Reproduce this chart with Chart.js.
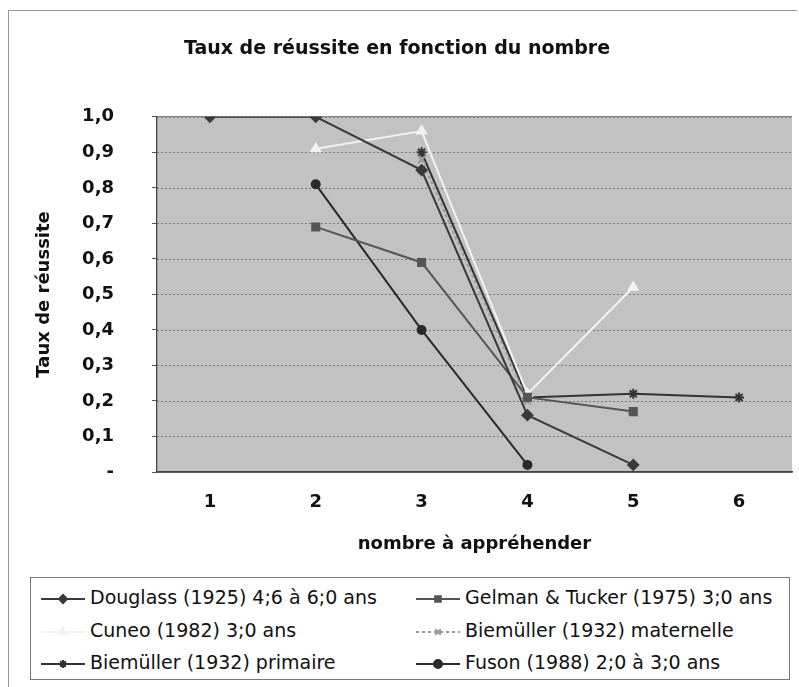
<!DOCTYPE html>
<html>
<head>
<meta charset="utf-8">
<script src="https://cdn.jsdelivr.net/npm/chart.js@4.4.0/dist/chart.umd.min.js"></script>
<style>
  body { margin: 0; background: #fff; font-family: "DejaVu Sans", sans-serif; }
  #frame { position: absolute; left: 8px; top: 10px; width: 788px; height: 676px; border-left: 1px solid #999; border-top: 1px solid #999; }
  #wrap { position: absolute; left: 0; top: 0; width: 799px; height: 570px; }
  #legend { position: absolute; left: 30px; top: 577px; width: 758px; height: 101px; border: 1px solid #777; }
  .item { position: absolute; font-size: 19px; color: #111; white-space: nowrap; }
  .item canvas { vertical-align: middle; margin-right: 3px; }
</style>
</head>
<body>
<div id="frame"></div>
<div id="wrap"><canvas id="chart" width="799" height="570"></canvas></div>
<div id="legend"></div>
<script>
// Values
const categories = ["1", "2", "3", "4", "5", "6"];
const douglass = [1.0, 1.0, 0.85, 0.16, 0.02, null];
const gelman = [null, 0.69, 0.59, 0.21, 0.17, null];
const cuneo = [null, 0.91, 0.96, 0.22, 0.52, null];
const maternelle = [null, null, 0.88, 0.2, null, null];
const primaire = [null, null, 0.9, 0.21, 0.22, 0.21];
const fuson = [null, 0.81, 0.4, 0.02, null, null];
const yTicks = ["-", "0,1", "0,2", "0,3", "0,4", "0,5", "0,6", "0,7", "0,8", "0,9", "1,0"];

const series = [
  { label: "Douglass (1925) 4;6 à 6;0 ans", data: douglass, color: "#3a3a3a", point: "rectRot", radius: 5, dash: [] },
  { label: "Gelman & Tucker (1975) 3;0 ans", data: gelman, color: "#555", point: "rect", radius: 5, dash: [] },
  { label: "Cuneo (1982) 3;0 ans", data: cuneo, color: "#f2f2f2", point: "triangle", radius: 5, dash: [] },
  { label: "Biemüller (1932) maternelle", data: maternelle, color: "#9a9a9a", point: "crossRot", radius: 5, dash: [3, 3] },
  { label: "Biemüller (1932) primaire", data: primaire, color: "#333", point: "star", radius: 5, dash: [] },
  { label: "Fuson (1988) 2;0 à 3;0 ans", data: fuson, color: "#2a2a2a", point: "circle", radius: 4, dash: [] },
];

const bold = (size) => ({ family: "'DejaVu Sans', sans-serif", size: size, weight: "bold" });

new Chart(document.getElementById("chart"), {
  type: "line",
  data: {
    labels: categories,
    datasets: series.map((s) => ({
      label: s.label,
      data: s.data,
      borderColor: s.color,
      backgroundColor: s.color,
      borderWidth: 2,
      borderDash: s.dash,
      pointStyle: s.point,
      pointRadius: s.radius,
      pointBorderWidth: 2,
      tension: 0,
      spanGaps: false,
    })),
  },
  options: {
    responsive: false,
    animation: false,
    layout: { padding: { left: 0, right: 5, top: 0, bottom: 0 } },
    plugins: {
      legend: { display: false },
      tooltip: { enabled: false },
      title: {
        display: true,
        text: "Taux de réussite en fonction du nombre",
        color: "#111",
        font: bold(19),
        padding: { top: 38, bottom: 56 },
      },
    },
    scales: {
      x: {
        offset: true,
        grid: { display: false },
        border: { color: "#444", width: 1.5 },
        ticks: { color: "#111", font: bold(18), padding: 12 },
        title: { display: true, text: "nombre à appréhender", color: "#111", font: bold(18), padding: { top: 10, bottom: 15 } },
        afterFit(scale) { scale.height = 98; },
      },
      y: {
        min: 0,
        max: 1,
        grid: { color: "#7a7a7a", tickColor: "#555", tickLength: 5, drawOnChartArea: true },
        border: { color: "#444", width: 1.5, display: true },
        ticks: {
          stepSize: 0.1,
          color: "#111",
          font: bold(18),
          padding: 38,
          callback: (v, i) => yTicks[i],
        },
        title: { display: true, text: "Taux de réussite", color: "#111", font: bold(18), padding: { top: 34, bottom: 0 } },
        afterFit(scale) { scale.width = 157; },
      },
    },
  },
  plugins: [{
    id: "plotBg",
    beforeDatasetsDraw(chart) {
      // gray plot area with dotted horizontal grid
      const { ctx, chartArea: a, scales: { y } } = chart;
      ctx.save();
      ctx.fillStyle = "#c2c2c2";
      ctx.fillRect(a.left + 1, a.top, a.right - a.left - 1, a.bottom - a.top - 1);
      ctx.strokeStyle = "#777";
      ctx.lineWidth = 1;
      ctx.setLineDash([2, 2]);
      y.ticks.forEach((t) => {
        if (t.value === 0) return;
        const py = Math.round(y.getPixelForValue(t.value)) + 0.5;
        ctx.beginPath();
        ctx.moveTo(a.left, py);
        ctx.lineTo(a.right, py);
        ctx.stroke();
      });
      ctx.restore();
    },
  }],
});

// HTML legend, 2 columns x 3 rows
const legend = document.getElementById("legend");
const pos = [[8, 8], [383, 8], [8, 41], [383, 41], [8, 73], [383, 73]];
series.forEach((s, i) => {
  const div = document.createElement("div");
  div.className = "item";
  div.style.left = pos[i][0] + "px";
  div.style.top = pos[i][1] + "px";
  const c = document.createElement("canvas");
  c.width = 48; c.height = 20;
  const ctx = c.getContext("2d");
  ctx.strokeStyle = s.color;
  ctx.fillStyle = s.color;
  ctx.lineWidth = 2;
  ctx.setLineDash(s.dash);
  ctx.beginPath(); ctx.moveTo(2, 10); ctx.lineTo(46, 10); ctx.stroke();
  ctx.setLineDash([]);
  Chart.helpers.drawPoint(ctx, { pointStyle: s.point, radius: 4, borderWidth: 2 }, 24, 10);
  div.appendChild(c);
  div.appendChild(document.createTextNode(s.label));
  legend.appendChild(div);
});
</script>
</body>
</html>
